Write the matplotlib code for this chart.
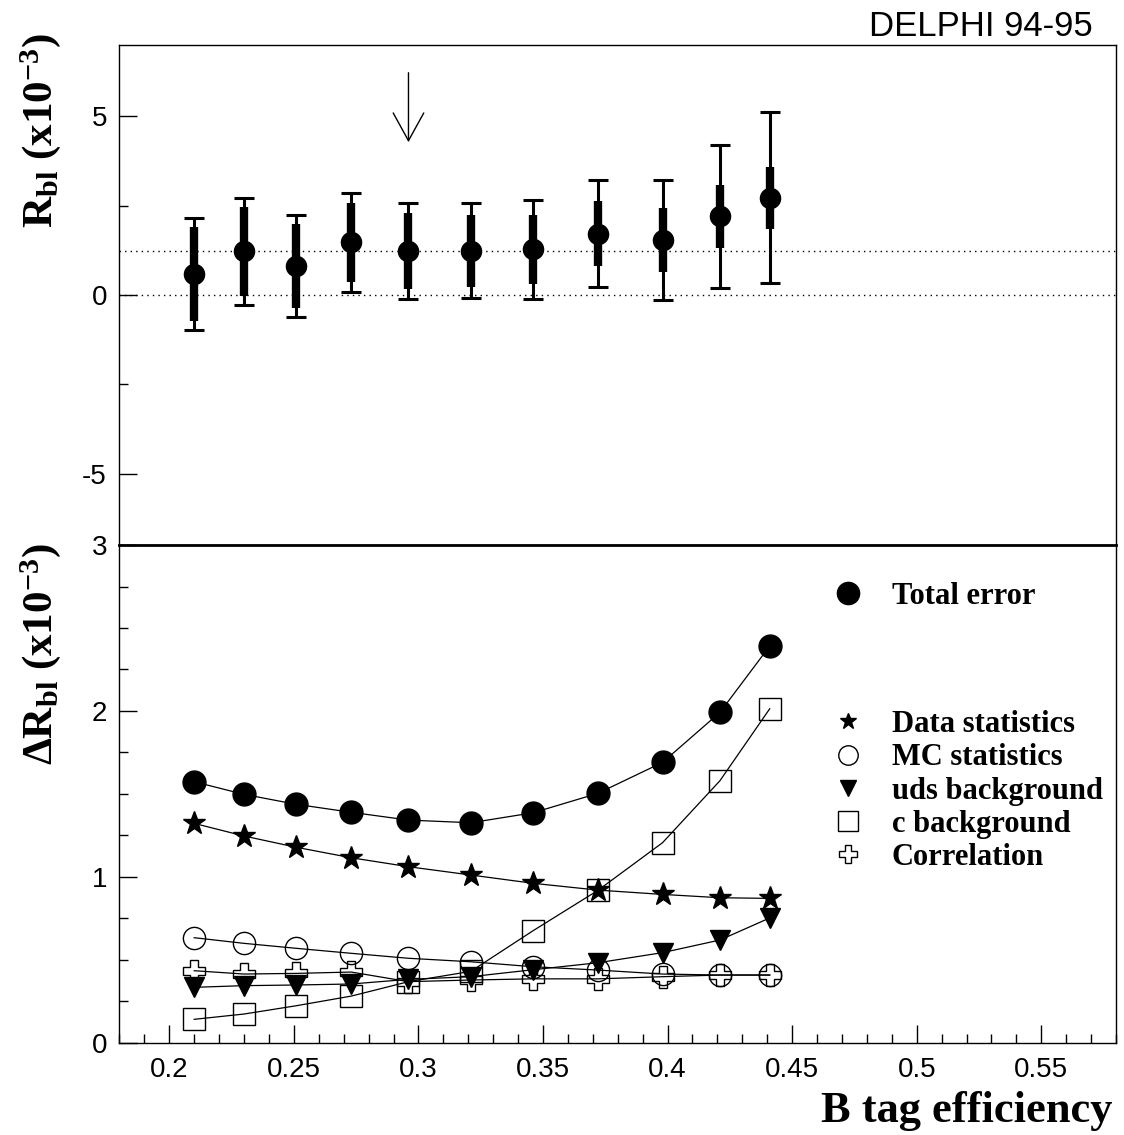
import matplotlib
matplotlib.use("Agg")
import matplotlib.pyplot as plt
from matplotlib.lines import Line2D
import numpy as np

plt.rcParams['font.family'] = ['Liberation Sans', 'DejaVu Sans']
plt.rcParams['mathtext.fontset'] = 'custom'
plt.rcParams['mathtext.rm'] = 'Liberation Serif:bold'
plt.rcParams['mathtext.it'] = 'Liberation Serif:bold'
plt.rcParams['mathtext.bf'] = 'Liberation Serif:bold'

# B tag efficiency working points
eff = [0.210, 0.230, 0.251, 0.273, 0.296, 0.321, 0.346, 0.372, 0.398, 0.421, 0.441]

# top panel: R_bl (x10^-3)
rbl = [0.59, 1.23, 0.81, 1.47, 1.24, 1.24, 1.28, 1.72, 1.54, 2.20, 2.72]
rbl_ref = 1.24
arrow_x = 0.296
arrow_from = 6.3
arrow_to = 4.2

# bottom panel: error breakdown (x10^-3)
total_err = [1.573, 1.497, 1.437, 1.389, 1.342, 1.326, 1.386, 1.503, 1.690, 1.991, 2.391]
data_stat = [1.322, 1.246, 1.178, 1.115, 1.061, 1.011, 0.961, 0.920, 0.894, 0.874, 0.870]
mc_stat = [0.633, 0.599, 0.569, 0.539, 0.509, 0.488, 0.458, 0.438, 0.414, 0.408, 0.408]
uds_bkg = [0.334, 0.344, 0.348, 0.354, 0.382, 0.398, 0.440, 0.482, 0.543, 0.619, 0.752]
c_bkg = [0.141, 0.173, 0.223, 0.281, 0.368, 0.430, 0.675, 0.918, 1.206, 1.579, 2.013]
corr = [0.434, 0.414, 0.418, 0.426, 0.368, 0.378, 0.385, 0.385, 0.398, 0.408, 0.408]

fig = plt.figure(figsize=(11.24, 11.35), dpi=100)
L, W = 0.1063, 0.8866
ax1 = fig.add_axes([L, 0.5198, W, 0.4406])
ax2 = fig.add_axes([L, 0.0813, W, 0.4385])

serif_bold = dict(family='Liberation Serif', weight='bold')

# ---- top panel
ax1.set_xlim(0.18, 0.58)
ax1.set_ylim(-7, 7)
ax1.axhline(0, color='black', lw=1, ls=(0, (1, 3)))
ax1.axhline(rbl_ref, color='black', lw=1, ls=(0, (1, 3)))
ax1.errorbar(eff, rbl, yerr=total_err, fmt='none', ecolor='black',
             elinewidth=2.2, capsize=7, capthick=2.2)
ax1.errorbar(eff, rbl, yerr=data_stat, fmt='o', color='black', ms=14.5,
             elinewidth=6, capsize=0)
ax1.annotate('', xy=(arrow_x, arrow_to), xytext=(arrow_x, arrow_from),
             arrowprops=dict(arrowstyle='->,head_length=1.0,head_width=0.55',
                             lw=1, color='black', mutation_scale=20))
ax1.set_yticks([-5, 0, 5])
ax1.set_yticklabels(['-5', '0', '5'])
ax1.set_yticks([-2.5, 2.5], minor=True)
ax1.tick_params(axis='x', which='both', bottom=False, labelbottom=False)
ax1.tick_params(axis='y', which='major', direction='in', length=13, width=1,
                labelsize=20, pad=9)
ax1.tick_params(axis='y', which='minor', direction='in', length=6.5, width=1)
for s in ax1.spines.values():
    s.set_linewidth(1.0)

# ---- bottom panel
ax2.set_xlim(0.18, 0.58)
ax2.set_ylim(0, 3)
lk = dict(color='black', lw=0.9)
ax2.plot(eff, total_err, marker='o', ms=16.5, mfc='black', mec='black', **lk)
ax2.plot(eff, data_stat, marker='*', ms=17, mfc='black', mec='black', **lk)
ax2.plot(eff, mc_stat, marker='o', ms=16, mfc='none', mec='black', mew=1, **lk)
ax2.plot(eff, uds_bkg, marker='v', ms=15, mfc='black', mec='black', **lk)
ax2.plot(eff, c_bkg, marker='s', ms=16, mfc='none', mec='black', mew=1, **lk)
ax2.plot(eff, corr, marker='P', ms=16, mfc='none', mec='black', mew=1, **lk)

ax2.set_xticks(np.arange(0.2, 0.551, 0.05))
ax2.set_xticklabels(['0.2', '0.25', '0.3', '0.35', '0.4', '0.45', '0.5', '0.55'])
ax2.set_xticks(np.arange(0.18, 0.5801, 0.01), minor=True)
ax2.set_yticks([0, 1, 2, 3])
ax2.set_yticks(np.arange(0, 3.01, 0.25), minor=True)
ax2.tick_params(which='major', direction='in', length=13, width=1,
                labelsize=20, pad=9)
ax2.tick_params(which='minor', direction='in', length=6.5, width=1)
ax2.tick_params(axis='x', which='major', pad=10)
for s in ax2.spines.values():
    s.set_linewidth(1.0)
ax2.spines['top'].set_linewidth(2.0)

# legend
def h(marker, ms, filled):
    return Line2D([], [], ls='none', marker=marker, ms=ms,
                  mfc='black' if filled else 'none', mec='black', mew=1)

leg_font = dict(family='Liberation Serif', weight='bold', size=22)
leg_kw = dict(loc='upper left', frameon=False, prop=leg_font, handlelength=1.0,
              handletextpad=0.93, borderaxespad=0, borderpad=0)
leg1 = ax2.legend([h('o', 16, True)], ['Total error'],
                  bbox_to_anchor=(0.7156, 0.9257), **leg_kw)
ax2.add_artist(leg1)
ax2.legend([h('*', 12, True), h('o', 14, False), h('v', 12, True),
            h('s', 14, False), h('P', 13, False)],
           ['Data statistics', 'MC statistics', 'uds background',
            'c background', 'Correlation'],
           bbox_to_anchor=(0.7156, 0.6685), labelspacing=0.14, **leg_kw)

# labels
fig.text(0.036, 1 - 33 / 1135, r'$\mathbf{R_{bl}}$ (x10$^{-3}$)', rotation=90,
         ha='center', va='top', fontsize=31, **serif_bold)
fig.text(0.036, 1 - 543 / 1135, r'$\mathbf{\Delta R_{bl}}$ (x10$^{-3}$)',
         rotation=90, ha='center', va='top', fontsize=31, **serif_bold)
fig.text(1112 / 1124, 1 - 1122 / 1135, 'B tag efficiency', ha='right',
         va='baseline', fontsize=32, **serif_bold)
fig.text(1093 / 1124, 1 - 36 / 1135, 'DELPHI 94-95', ha='right',
         va='baseline', fontsize=25)

fig.savefig('out.png', dpi=100)
